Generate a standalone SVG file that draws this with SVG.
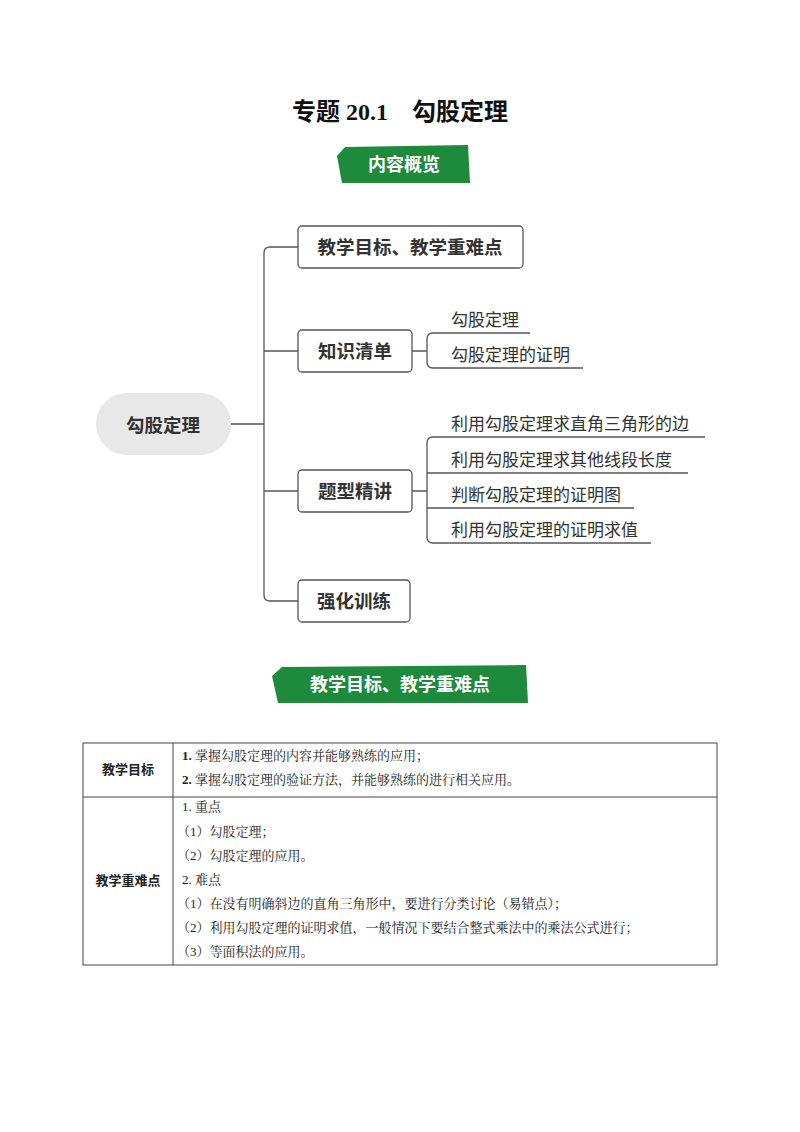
<svg xmlns="http://www.w3.org/2000/svg" width="800" height="1132" viewBox="0 0 800 1132">
<style>
.box{fill:#fff;stroke:#555;stroke-width:1.3}
.bt{font-family:"Noto Sans CJK SC",sans-serif;font-weight:bold;font-size:18.5px;fill:#333;text-anchor:middle}
.lt{font-family:"Noto Sans CJK SC",sans-serif;font-size:17px;fill:#333}
.ln{fill:none;stroke:#555;stroke-width:1.3}
.ban{fill:#1e8a3c}
.bnt{font-family:"Noto Sans CJK SC",sans-serif;font-weight:bold;font-size:18px;fill:#fff;text-anchor:middle}
.tt{font-family:"Liberation Serif","Noto Serif CJK SC","Noto Sans CJK SC",serif;font-size:13px;fill:#222}
.th{font-family:"Noto Sans CJK SC",sans-serif;font-weight:bold;font-size:13px;fill:#222;text-anchor:middle}
</style>
<rect width="800" height="1132" fill="#fff"/>
<text x="400" y="120" text-anchor="middle" font-family="Liberation Serif,Noto Sans CJK SC,serif" font-weight="bold" font-size="24" fill="#111">专题 20.1　勾股定理</text>
<g id="banner1"><polygon class="ban" points="345,147 468,145 470,183 342,183 337,156"/><text class="bnt" x="404" y="171">内容概览</text></g>
<g id="connectors">
<path class="ln" d="M231,424 H264 M298,247 H270 Q264,247 264,253 V595 Q264,601 270,601 H298 M264,351 H298 M264,491 H298"/>
<path class="ln" d="M412,351 H427 M583,368 H433 Q427,368 427,362 V339 Q427,333 433,333 H530"/>
<path class="ln" d="M412,491 H427 M705,437 H433 Q427,437 427,443 V537 Q427,543 433,543 H651 M427,473 H688 M427,508 H634"/>
</g>
<g id="root"><rect x="96" y="393" width="135" height="62" rx="31" fill="#e8e8e8"/><text class="bt" x="163" y="432" font-size="22">勾股定理</text></g>
<g id="n1"><rect class="box" x="298" y="226" width="225" height="42" rx="4"/><text class="bt" x="410" y="254">教学目标、教学重难点</text></g>
<g id="n2"><rect class="box" x="298" y="330" width="114" height="42" rx="4"/><text class="bt" x="355" y="358">知识清单</text></g>
<g id="n3"><rect class="box" x="298" y="470" width="114" height="42" rx="4"/><text class="bt" x="355" y="498">题型精讲</text></g>
<g id="n4"><rect class="box" x="298" y="580" width="112" height="42" rx="4"/><text class="bt" x="354" y="608">强化训练</text></g>
<g id="leaf1"><text class="lt" x="451" y="326">勾股定理</text></g>
<g id="leaf2"><text class="lt" x="451" y="361">勾股定理的证明</text></g>
<g id="leaf3"><text class="lt" x="451" y="430">利用勾股定理求直角三角形的边</text></g>
<g id="leaf4"><text class="lt" x="451" y="466">利用勾股定理求其他线段长度</text></g>
<g id="leaf5"><text class="lt" x="451" y="501">判断勾股定理的证明图</text></g>
<g id="leaf6"><text class="lt" x="451" y="536">利用勾股定理的证明求值</text></g>
<g id="banner2"><polygon class="ban" points="282,667 526,665 528,703 278,703 272,676"/><text class="bnt" x="400" y="691">教学目标、教学重难点</text></g>
<g id="table" stroke="#444" stroke-width="1" fill="none">
<rect x="83" y="743" width="634" height="222"/>
<line x1="173" y1="743" x2="173" y2="965"/>
<line x1="83" y1="797" x2="717" y2="797"/>
</g>
<text class="th" x="128" y="774">教学目标</text>
<text class="th" x="128" y="885">教学重难点</text>
<text class="tt" x="182" y="760"><tspan font-weight="bold">1.</tspan> 掌握勾股定理的内容并能够熟练的应用；</text>
<text class="tt" x="182" y="784"><tspan font-weight="bold">2.</tspan> 掌握勾股定理的验证方法，并能够熟练的进行相关应用。</text>
<text class="tt" x="182" y="811">1. 重点</text>
<text class="tt" x="177" y="836">（1）勾股定理；</text>
<text class="tt" x="177" y="860">（2）勾股定理的应用。</text>
<text class="tt" x="182" y="884">2. 难点</text>
<text class="tt" x="177" y="908">（1）在没有明确斜边的直角三角形中，要进行分类讨论（易错点）；</text>
<text class="tt" x="177" y="932">（2）利用勾股定理的证明求值，一般情况下要结合整式乘法中的乘法公式进行；</text>
<text class="tt" x="177" y="956">（3）等面积法的应用。</text>
</svg>
